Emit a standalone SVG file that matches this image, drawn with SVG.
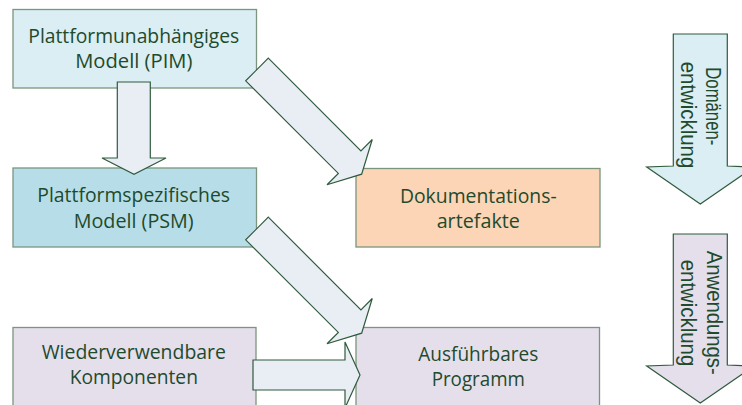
<svg xmlns="http://www.w3.org/2000/svg" width="742" height="405" viewBox="0 0 742 405">
  <defs>
    <style>
      .box { stroke: #7B957F; stroke-width: 1.3; }
      .pim { fill: #DAEEF3; }
      .psm { fill: #B7DEE8; }
      .doc { fill: #FBD5B5; }
      .lav { fill: #E5DFEC; }
      .lbl { font-family: "Open Sans", "Noto Sans", sans-serif; font-size: 20px; fill: #1F4A2C; text-anchor: middle; }
      .side { font-family: "Liberation Sans", Arial, sans-serif; font-size: 21.5px; fill: #1F4A2C; }
      .arrow { fill: #E9EEF5; stroke: #2F5B3C; stroke-width: 1.2; stroke-linejoin: miter; }
      .phase { stroke: #2F5B3C; stroke-width: 1.2; }
    </style>
    <!-- block arrow along +x, origin at the middle of the tail -->
    <polygon id="diag" points="0,-16 131,-16 131,-32 148,0 131,32 131,16 0,16"/>
  </defs>

  <!-- phase arrows on the right -->
  <g id="domaenen">
    <polygon class="phase pim" points="673.3,34 727.3,34 727.3,166 754,167 700.3,204 646.7,167 673.3,166"/>
    <text class="side" transform="translate(706,67.3) rotate(90)" textLength="78" lengthAdjust="spacingAndGlyphs">Domänen-</text>
    <text class="side" transform="translate(680.5,61.7) rotate(90)" textLength="106.6" lengthAdjust="spacingAndGlyphs">entwicklung</text>
  </g>
  <g id="anwendung">
    <polygon class="phase lav" points="673.3,234 727.3,234 727.3,365 754,366 700.3,403 646.7,366 673.3,365"/>
    <text class="side" transform="translate(706.5,250.7) rotate(90)" textLength="124" lengthAdjust="spacingAndGlyphs">Anwendungs-</text>
    <text class="side" transform="translate(680.5,259.7) rotate(90)" textLength="106.6" lengthAdjust="spacingAndGlyphs">entwicklung</text>
  </g>

  <!-- model and artefact boxes -->
  <g id="pim">
    <rect class="box pim" x="13" y="9.5" width="243.5" height="78.5"/>
    <text class="lbl" x="133.8" y="43.3" textLength="211" lengthAdjust="spacingAndGlyphs">Plattformunabhängiges</text>
    <text class="lbl" x="133.8" y="68.3" textLength="117.3" lengthAdjust="spacingAndGlyphs">Modell (PIM)</text>
  </g>
  <g id="psm">
    <rect class="box psm" x="13" y="168" width="243.5" height="79"/>
    <text class="lbl" x="133.7" y="201.7" textLength="192.7" lengthAdjust="spacingAndGlyphs">Plattformspezifisches</text>
    <text class="lbl" x="133.7" y="228" textLength="120" lengthAdjust="spacingAndGlyphs">Modell (PSM)</text>
  </g>
  <g id="doku">
    <rect class="box doc" x="356" y="168.5" width="244" height="78.5"/>
    <text class="lbl" x="478.3" y="202.7" textLength="156.7" lengthAdjust="spacingAndGlyphs">Dokumentations-</text>
    <text class="lbl" x="478.3" y="228.3" textLength="83.3" lengthAdjust="spacingAndGlyphs">artefakte</text>
  </g>
  <g id="komponenten">
    <rect class="box lav" x="13" y="327.5" width="243" height="90"/>
    <text class="lbl" x="133.8" y="358.6" textLength="184.3" lengthAdjust="spacingAndGlyphs">Wiederverwendbare</text>
    <text class="lbl" x="133.8" y="383.6" textLength="128.3" lengthAdjust="spacingAndGlyphs">Komponenten</text>
  </g>
  <g id="programm">
    <rect class="box lav" x="356" y="327.5" width="243.5" height="90"/>
    <text class="lbl" x="478.3" y="361" textLength="120" lengthAdjust="spacingAndGlyphs">Ausführbares</text>
    <text class="lbl" x="478.3" y="386" textLength="93.3" lengthAdjust="spacingAndGlyphs">Programm</text>
  </g>

  <!-- connectors -->
  <g id="connectors">
    <polygon class="arrow" points="117.3,82 150.3,82 150.3,158 166,158 134,174.3 102,158 117.3,158"/>
    <use href="#diag" class="arrow" transform="translate(257,69.5) rotate(45)"/>
    <use href="#diag" class="arrow" transform="translate(257,228.5) rotate(45)"/>
    <polygon class="arrow" points="253,360 345,360 345,342 360,375 345,408 345,390 253,390"/>
  </g>
</svg>
